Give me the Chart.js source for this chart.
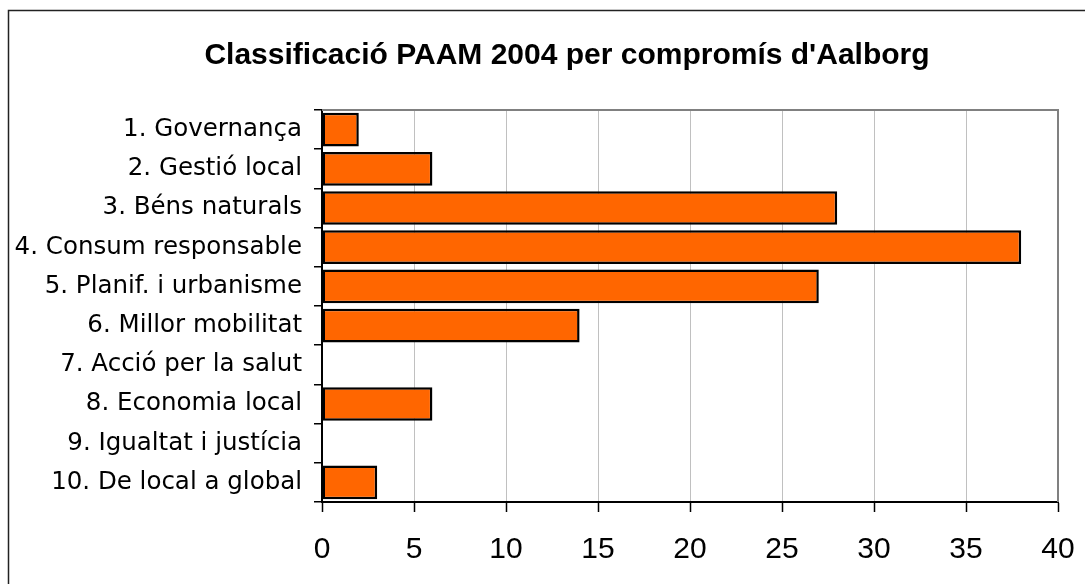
<!DOCTYPE html>
<html>
<head>
<meta charset="utf-8">
<script src="https://cdn.jsdelivr.net/npm/chart.js@4.4.0/dist/chart.umd.min.js"></script>
<style>
  html, body { margin: 0; padding: 0; background: #fff; }
  #wrap { position: relative; width: 1085px; height: 584px; }
</style>
</head>
<body>
<div id="wrap"><canvas id="myChart" width="1085" height="584"></canvas></div>
<script>
// dades llegides del gràfic
var categories = ['1. Governança', '2. Gestió local', '3. Béns naturals', '4. Consum responsable',
    '5. Planif. i urbanisme', '6. Millor mobilitat', '7. Acció per la salut', '8. Economia local',
    '9. Igualtat i justícia', '10. De local a global'];
var values = [2, 6, 28, 38, 27, 14, 0, 6, 0, 3];
var xMin = 0, xMax = 40, xStep = 5;
var titleText = "Classificació PAAM 2004 per compromís d'Aalborg";

// marc exterior, títol i vora superior/dreta de l'àrea del gràfic
var frame = {
    id: 'frame',
    beforeDraw: function(chart) {
        var c = chart.ctx;
        c.save();
        c.fillStyle = '#fff';
        c.fillRect(0, 0, chart.width, chart.height);
        c.strokeStyle = '#222';
        c.lineWidth = 1.5;
        c.beginPath();
        c.moveTo(8.5, chart.height + 5);
        c.lineTo(8.5, 10.5);
        c.lineTo(chart.width + 5, 10.5);
        c.stroke();
        // títol (centrat com a l'original, no sobre el canvas)
        c.fillStyle = '#000';
        c.font = 'bold 30px "Liberation Sans", Arial, sans-serif';
        c.textAlign = 'center';
        c.textBaseline = 'middle';
        c.fillText(titleText, 567, 56);
        c.restore();
    },
    afterDraw: function(chart) {
        var a = chart.chartArea, c = chart.ctx;
        c.save();
        c.strokeStyle = '#808080';
        c.lineWidth = 2;
        c.beginPath();
        c.moveTo(a.left, a.top);
        c.lineTo(a.right, a.top);
        c.lineTo(a.right, a.bottom);
        c.stroke();
        c.restore();
    }
};

var ctx = document.getElementById('myChart').getContext('2d');

var myChart = new Chart(ctx, {
    type: 'bar',
    data: {
        labels: categories,
        datasets: [{
            data: values,
            backgroundColor: '#FF6600',
            borderColor: '#000',
            borderWidth: 2.5,
            borderSkipped: false,
            barPercentage: 0.86,
            categoryPercentage: 1
        }]
    },
    options: {
        indexAxis: 'y',
        responsive: false,
        animation: false,
        layout: { padding: { left: 4, right: 27, top: 110, bottom: 0 } },
        plugins: {
            legend: { display: false },
            tooltip: { enabled: false },
            title: { display: false }
        },
        scales: {
            x: {
                min: xMin,
                max: xMax,
                afterFit: function(s) {
                    s.height = 82;
                    s.paddingLeft = 0;
                    s.paddingRight = 0;
                },
                ticks: {
                    stepSize: xStep,
                    color: '#000',
                    padding: 20,
                    font: { family: '"Liberation Sans", Arial, sans-serif', size: 30 }
                },
                grid: { color: '#c0c0c0', lineWidth: 1, tickColor: '#000', tickLength: 10, tickWidth: 1.5 },
                border: { color: '#000', width: 2 }
            },
            y: {
                afterFit: function(s) { s.width = 318; },
                ticks: {
                    color: '#000',
                    padding: 12,
                    font: { family: '"DejaVu Sans", sans-serif', size: 24.5 }
                },
                grid: { drawOnChartArea: false, color: '#000', tickLength: 8, lineWidth: 1.5 },
                border: { color: '#000', width: 2 }
            }
        }
    },
    plugins: [frame]
});
</script>
</body>
</html>
